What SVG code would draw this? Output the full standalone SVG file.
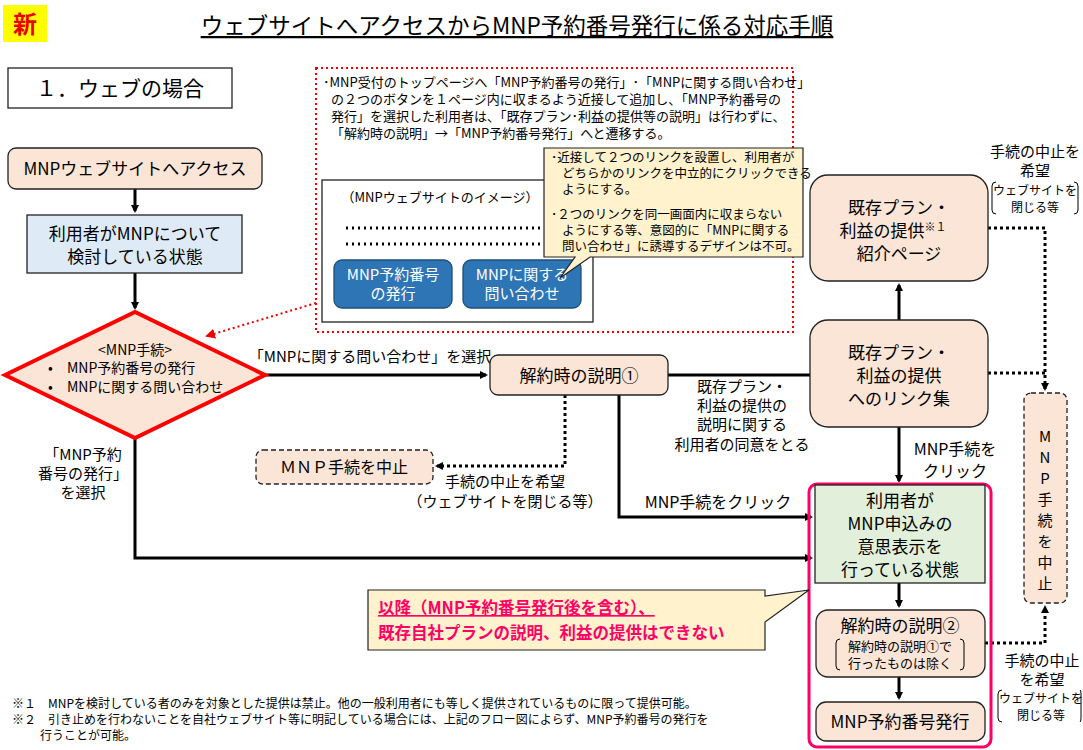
<svg xmlns="http://www.w3.org/2000/svg" width="1083" height="750" viewBox="0 0 1083 750">
<style>
text{font-family:"Noto Sans CJK JP","Noto Sans CJK SC",sans-serif;fill:#000}
.pe{fill:#fbe5d6;stroke:#222;stroke-width:1.3}
.dash{fill:#fbe5d6;stroke:#222;stroke-width:1.3;stroke-dasharray:5,3}
.ln{fill:none;stroke:#000;stroke-width:3}
.dt{fill:none;stroke:#000;stroke-width:3;stroke-dasharray:3,3}
.t15{font-size:15px}
.t16{font-size:16px}
.t17{font-size:17px}
.t13{font-size:13px}
.t12{font-size:12px}
.cb{font-size:12.5px}
</style>
<defs>
<marker id="a" markerWidth="8" markerHeight="8" refX="6" refY="4" orient="auto" markerUnits="userSpaceOnUse"><path d="M0,0 L8,4 L0,8 Z" fill="#000"/></marker>
<marker id="r" markerWidth="10" markerHeight="10" refX="8" refY="5" orient="auto" markerUnits="userSpaceOnUse"><path d="M0,0 L10,5 L0,10 Z" fill="#e00"/></marker>
</defs>
<rect width="1083" height="750" fill="#fff"/>
<g id="header">
<rect x="3" y="5" width="44" height="37" fill="#ffff00"/>
<text x="25" y="33" text-anchor="middle" style="font-size:24px;fill:#e00;font-weight:bold">新</text>
<text x="517" y="34" text-anchor="middle" style="font-size:22.5px" text-decoration="underline">ウェブサイトへアクセスからMNP予約番号発行に係る対応手順</text>
<rect x="8" y="68" width="224" height="40" fill="#fff" stroke="#222" stroke-width="1.3"/>
<text x="120" y="96" text-anchor="middle" style="font-size:21px">１．ウェブの場合</text>
</g>
<g id="image-note">
<rect x="316" y="68" width="477" height="264" fill="none" stroke="#e00" stroke-width="2" stroke-dasharray="2,3"/>
<text class="t13" x="323" y="87">･MNP受付のトップページへ「MNP予約番号の発行」･「MNPに関する問い合わせ」</text>
<text class="t13" x="331" y="104">の２つのボタンを１ページ内に収まるよう近接して追加し、「MNP予約番号の</text>
<text class="t13" x="331" y="121">発行」を選択した利用者は、「既存プラン･利益の提供等の説明」は行わずに、</text>
<text class="t13" x="331" y="138">「解約時の説明」→「MNP予約番号発行」へと遷移する。</text>
<rect x="322" y="180" width="271" height="142" fill="#fff" stroke="#222" stroke-width="1.3"/>
<text class="t13" x="440" y="202" text-anchor="middle">（MNPウェブサイトのイメージ）</text>
<line x1="346" y1="228" x2="548" y2="228" stroke="#000" stroke-width="3" stroke-dasharray="2,4"/>
<line x1="346" y1="244" x2="548" y2="244" stroke="#000" stroke-width="3" stroke-dasharray="2,4"/>
<rect x="334" y="260" width="118" height="48" rx="8" fill="#2e75b6" stroke="#1f4e79" stroke-width="1.3"/>
<text x="393" y="280" text-anchor="middle" class="t15" style="fill:#fff">MNP予約番号</text>
<text x="393" y="299" text-anchor="middle" class="t15" style="fill:#fff">の発行</text>
<rect x="463" y="260" width="118" height="48" rx="8" fill="#2e75b6" stroke="#1f4e79" stroke-width="1.3"/>
<text x="522" y="280" text-anchor="middle" class="t15" style="fill:#fff">MNPに関する</text>
<text x="522" y="299" text-anchor="middle" class="t15" style="fill:#fff">問い合わせ</text>
<path d="M544,148 H803 V257 H590 L560,278 L575,257 H544 Z" fill="#fff2cc" stroke="#222" stroke-width="1.2"/>
<text class="cb" x="551" y="162">･近接して２つのリンクを設置し、利用者が</text>
<text class="cb" x="562" y="178">どちらかのリンクを中立的にクリックできる</text>
<text class="cb" x="562" y="194">ようにする。</text>
<text class="cb" x="551" y="219">･２つのリンクを同一画面内に収まらない</text>
<text class="cb" x="562" y="235">ようにする等、意図的に「MNPに関する</text>
<text class="cb" x="562" y="251">問い合わせ」に誘導するデザインは不可。</text>
</g>
<g id="connectors">
<line class="ln" x1="135" y1="189" x2="135" y2="211" marker-end="url(#a)"/>
<line class="ln" x1="135" y1="273" x2="135" y2="308" marker-end="url(#a)"/>
<line x1="316" y1="303" x2="207" y2="336" stroke="#e00" stroke-width="2" stroke-dasharray="2,3" marker-end="url(#r)"/>
<line class="ln" x1="265" y1="375" x2="486" y2="375" marker-end="url(#a)"/>
<line class="ln" x1="668" y1="375" x2="810" y2="375"/>
<line class="ln" x1="899" y1="320" x2="899" y2="285" marker-end="url(#a)"/>
<polyline class="dt" points="988,228 1045,228 1045,389" marker-end="url(#a)"/>
<line class="dt" x1="988" y1="373" x2="1045" y2="373"/>
<polyline class="dt" points="565,395 565,466 437,466" marker-end="url(#a)"/>
<polyline class="ln" points="619,395 619,517 811,517" marker-end="url(#a)"/>
<line class="ln" x1="899" y1="427" x2="899" y2="481" marker-end="url(#a)"/>
<polyline class="ln" points="135,438 135,558 811,558" marker-end="url(#a)"/>
<line class="ln" x1="899" y1="583" x2="899" y2="606" marker-end="url(#a)"/>
<line class="ln" x1="899" y1="677" x2="899" y2="698" marker-end="url(#a)"/>
<polyline class="dt" points="985,643 1045,643 1045,607" marker-end="url(#a)"/>
</g>
<g id="labels">
<text class="t15" x="370" y="362" text-anchor="middle">「MNPに関する問い合わせ」を選択</text>
<text class="t15" x="83" y="460" text-anchor="middle">「MNP予約</text>
<text class="t15" x="83" y="479" text-anchor="middle">番号の発行」</text>
<text class="t15" x="83" y="498" text-anchor="middle">を選択</text>
<text class="t15" x="742" y="392" text-anchor="middle">既存プラン・</text>
<text class="t15" x="742" y="411" text-anchor="middle">利益の提供の</text>
<text class="t15" x="742" y="430" text-anchor="middle">説明に関する</text>
<text class="t15" x="742" y="450" text-anchor="middle">利用者の同意をとる</text>
<text class="t15" x="505" y="487" text-anchor="middle">手続の中止を希望</text>
<text class="t15" x="505" y="507" text-anchor="middle">（ウェブサイトを閉じる等）</text>
<text class="t16" x="718" y="508" text-anchor="middle">MNP手続をクリック</text>
<text class="t16" x="955" y="455" text-anchor="middle">MNP手続を</text>
<text class="t16" x="955" y="477" text-anchor="middle">クリック</text>
<text class="t15" x="1035" y="157" text-anchor="middle">手続の中止を</text>
<text class="t15" x="1035" y="176" text-anchor="middle">希望</text>
<text class="t12" x="1035" y="195" text-anchor="middle">ウェブサイトを</text>
<text class="t12" x="1035" y="212" text-anchor="middle">閉じる等</text>
<path d="M996,182 q-4,0 -4,4 v24 q0,4 4,4 M1074,182 q4,0 4,4 v24 q0,4 -4,4" fill="none" stroke="#000"/>
<text class="t15" x="1042" y="666" text-anchor="middle">手続の中止</text>
<text class="t15" x="1042" y="685" text-anchor="middle">を希望</text>
<text class="t12" x="1041" y="703" text-anchor="middle">ウェブサイトを</text>
<text class="t12" x="1041" y="720" text-anchor="middle">閉じる等</text>
<path d="M1002,690 q-4,0 -4,4 v24 q0,4 4,4 M1080,690 q1,0 1,4 v24 q0,4 -1,4" fill="none" stroke="#000"/>
</g>
<g id="n-access"><rect class="pe" x="8" y="148" width="254" height="41" rx="8"/><text class="t17" x="135" y="175" text-anchor="middle">MNPウェブサイトへアクセス</text></g>
<g id="n-user"><rect x="27" y="215" width="215" height="58" fill="#deebf7" stroke="#222" stroke-width="1.3"/><text class="t17" x="135" y="240" text-anchor="middle">利用者がMNPについて</text><text class="t17" x="135" y="263" text-anchor="middle">検討している状態</text></g>
<g id="n-diamond"><polygon points="5,375 135,312 265,375 135,438" fill="#fbe5d6" stroke="#f00" stroke-width="4"/>
<text x="135" y="355" text-anchor="middle" style="font-size:14px">&lt;MNP手続&gt;</text>
<text x="48" y="373" style="font-size:14px">•</text><text x="67" y="373" style="font-size:14px">MNP予約番号の発行</text>
<text x="48" y="392" style="font-size:14px">•</text><text x="67" y="392" style="font-size:14px">MNPに関する問い合わせ</text></g>
<g id="n-kaiyaku1"><rect class="pe" x="490" y="355" width="178" height="40" rx="8"/><text class="t17" x="579" y="382" text-anchor="middle">解約時の説明①</text></g>
<g id="n-stop1"><rect class="dash" x="256" y="450" width="177" height="34" rx="7"/><text class="t16" x="344" y="473" text-anchor="middle">ＭＮＰ手続を中止</text></g>
<g id="n-intro"><rect class="pe" x="810" y="175" width="178" height="106" rx="18"/><text class="t17" x="899" y="214" text-anchor="middle">既存プラン・</text><text class="t17" x="893" y="237" text-anchor="middle">利益の提供<tspan style="font-size:11px" dy="-6">※１</tspan></text><text class="t17" x="899" y="260" text-anchor="middle">紹介ページ</text></g>
<g id="n-links"><rect class="pe" x="810" y="320" width="178" height="107" rx="18"/><text class="t17" x="899" y="359" text-anchor="middle">既存プラン・</text><text class="t17" x="899" y="382" text-anchor="middle">利益の提供</text><text class="t17" x="899" y="405" text-anchor="middle">へのリンク集</text></g>
<g id="n-stop2"><rect class="dash" x="1024" y="393" width="43" height="210" rx="7"/>
<text class="t15" x="1045" y="442" text-anchor="middle">M</text><text class="t15" x="1045" y="463" text-anchor="middle">N</text><text class="t15" x="1045" y="484" text-anchor="middle">P</text><text class="t15" x="1045" y="505" text-anchor="middle">手</text><text class="t15" x="1045" y="526" text-anchor="middle">続</text><text class="t15" x="1045" y="547" text-anchor="middle">を</text><text class="t15" x="1045" y="568" text-anchor="middle">中</text><text class="t15" x="1045" y="589" text-anchor="middle">止</text></g>
<g id="n-pink"><rect x="809" y="484" width="182" height="263" rx="8" fill="none" stroke="#ff0066" stroke-width="3"/></g>
<g id="n-intent"><rect x="815" y="485" width="170" height="98" fill="#e2efda" stroke="#222" stroke-width="1.3"/><text class="t17" x="900" y="507" text-anchor="middle">利用者が</text><text class="t17" x="900" y="530" text-anchor="middle">MNP申込みの</text><text class="t17" x="900" y="553" text-anchor="middle">意思表示を</text><text class="t17" x="900" y="576" text-anchor="middle">行っている状態</text></g>
<g id="n-kaiyaku2"><rect class="pe" x="816" y="610" width="169" height="67" rx="12"/><text class="t17" x="900" y="632" text-anchor="middle">解約時の説明②</text><text class="t13" x="900" y="651" text-anchor="middle">解約時の説明①で</text><text class="t13" x="900" y="668" text-anchor="middle">行ったものは除く</text><path d="M840,639 q-4,0 -4,4 v23 q0,4 4,4 M960,639 q4,0 4,4 v23 q0,4 -4,4" fill="none" stroke="#000"/></g>
<g id="n-issue"><rect class="pe" x="816" y="702" width="169" height="39" rx="10"/><text class="t17" x="900" y="728" text-anchor="middle">MNP予約番号発行</text></g>
<g id="callout"><path d="M368,590 H765 V596 L809,590 L765,622 V650 H368 Z" fill="#fff2cc" stroke="#222" stroke-width="1.2"/>
<text x="378" y="614" style="font-size:16.5px;font-weight:bold;fill:#ff0066" text-decoration="underline">以降（MNP予約番号発行後を含む）、</text>
<text x="378" y="639" style="font-size:16.5px;font-weight:bold;fill:#ff0066">既存自社プランの説明、利益の提供はできない</text></g>
<g id="footnotes">
<text class="t12" x="12" y="708">※１　MNPを検討している者のみを対象とした提供は禁止。他の一般利用者にも等しく提供されているものに限って提供可能。</text>
<text class="t12" x="12" y="724">※２　引き止めを行わないことを自社ウェブサイト等に明記している場合には、上記のフロー図によらず、MNP予約番号の発行を</text>
<text class="t12" x="40" y="740">行うことが可能。</text>
</g>
</svg>
